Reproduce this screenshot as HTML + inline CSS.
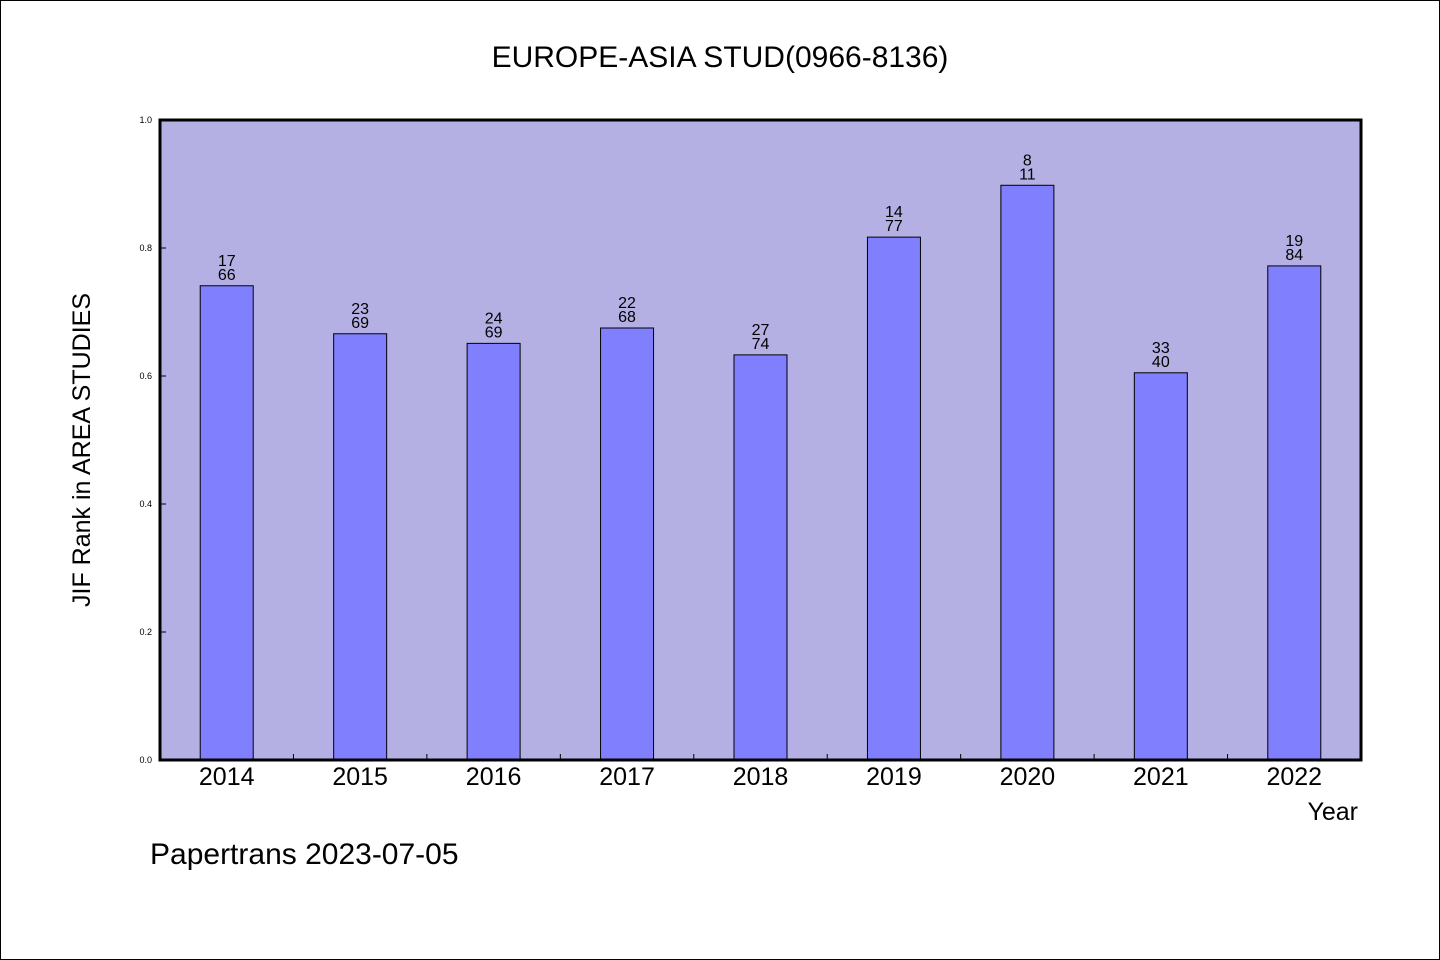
<!DOCTYPE html>
<html><head><meta charset="utf-8"><style>
html,body{margin:0;padding:0;background:#fff}
svg{display:block}
text{font-family:"WenQuanYi Zen Hei","Liberation Sans",sans-serif;fill:#000}
</style></head><body>
<svg width="1440" height="960" viewBox="0 0 1440 960">
<rect x="0.5" y="0.5" width="1439" height="959" fill="#fff" stroke="#000"/>
<text x="720" y="67" text-anchor="middle" font-size="30">EUROPE-ASIA STUD(0966-8136)</text>
<rect x="160" y="120" width="1201" height="640" fill="#b5b0e3"/>
<g id="ticks"></g>
<g id="bars"></g>
<rect x="160" y="120" width="1201" height="640" fill="none" stroke="#000" stroke-width="3"/>
<text transform="translate(90,450) rotate(-90)" text-anchor="middle" font-size="25">JIF Rank in AREA STUDIES</text>
<text x="1358" y="820" text-anchor="end" font-size="25">Year</text>
<text x="150" y="864" font-size="30">Papertrans 2023-07-05</text>
</svg>
<script>
const years=["2014","2015","2016","2017","2018","2019","2020","2021","2022"];
const values=[0.741,0.666,0.651,0.675,0.633,0.817,0.898,0.605,0.772];
const ranks=["17","23","24","22","27","14","8","33","19"];
const totals=["66","69","69","68","74","77","11","40","84"];
const yTicks=["0.0","0.2","0.4","0.6","0.8","1.0"];
const NS="http://www.w3.org/2000/svg";
const x0=160,pw=1201,y0=760,ph=640;
const band=pw/years.length;
function xs(i){return x0+band*(i+0.5);}
function ys(v){return y0-v*ph;}
function mk(t,a,p){const e=document.createElementNS(NS,t);for(const k in a)e.setAttribute(k,a[k]);p.appendChild(e);return e;}
const tg=document.getElementById('ticks'),bg=document.getElementById('bars');
yTicks.forEach(function(s){
  const v=parseFloat(s);
  const t=mk('text',{x:152,y:ys(v)+3,'text-anchor':'end','font-size':9},tg);
  t.textContent=s;
  
  
  const l=mk('line',{x1:160,x2:166,y1:ys(v),y2:ys(v),stroke:'#000'},tg);
  
  
});
years.forEach(function(y,i){
  if(i>0){const l=mk('line',{x1:x0+band*i,x2:x0+band*i,y1:754,y2:760,stroke:'#000'},tg);
    
    }
  const t=mk('text',{x:xs(i),y:785,'text-anchor':'middle','font-size':25},tg);
  t.textContent=y;
  
  
  const bw=53,top=ys(values[i]);
  const r=mk('rect',{x:xs(i)-bw/2,y:top,width:bw,height:y0-top,fill:'#8080ff',stroke:'#000','stroke-width':1},bg);
  
  
  const a=mk('text',{x:xs(i),y:top-20,'text-anchor':'middle','font-size':16},bg);
  a.textContent=ranks[i];
  
  
  const b=mk('text',{x:xs(i),y:top-6,'text-anchor':'middle','font-size':16},bg);
  b.textContent=totals[i];
  
  
});
</script>
</body></html>
